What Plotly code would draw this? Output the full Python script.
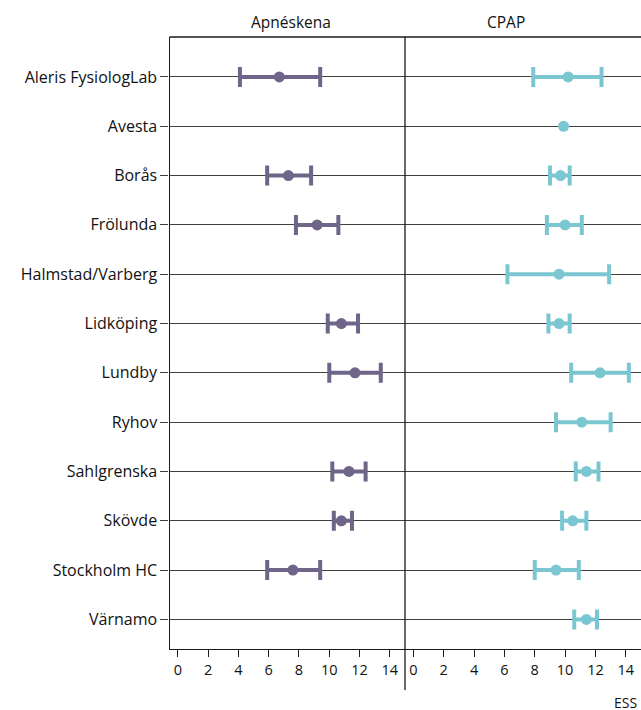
import plotly.graph_objects as go

clinics = ["Aleris FysiologLab", "Avesta", "Borås", "Frölunda", "Halmstad/Varberg",
           "Lidköping", "Lundby", "Ryhov", "Sahlgrenska", "Skövde", "Stockholm HC", "Värnamo"]

# Apnéskena: mean ESS with lower / upper CI
splint_mean = [6.7, None, 7.3, 9.2, None, 10.8, 11.7, None, 11.3, 10.8, 7.6, None]
splint_lo   = [4.1, None, 5.9, 7.8, None, 9.9, 10.0, None, 10.2, 10.3, 5.9, None]
splint_hi   = [9.4, None, 8.8, 10.6, None, 11.9, 13.4, None, 12.4, 11.5, 9.4, None]

# CPAP: mean ESS with lower / upper CI
cpap_mean = [10.2, 9.9, 9.7, 10.0, 9.6, 9.6, 12.3, 11.1, 11.4, 10.5, 9.4, 11.4]
cpap_lo   = [7.9, None, 9.0, 8.8, 6.2, 8.9, 10.4, 9.4, 10.7, 9.8, 8.0, 10.6]
cpap_hi   = [12.4, None, 10.3, 11.1, 12.9, 10.3, 14.2, 13.0, 12.2, 11.4, 10.9, 12.1]

panel_titles = ["Apnéskena", "CPAP"]
x_ticks = [0, 2, 4, 6, 8, 10, 12, 14]
x_label = "ESS"

PURPLE = "#6E6589"
CYAN = "#7AC7D2"
GRID = "#404040"
LINE = "#1a1a1a"
FONT = "Open Sans"

W, H = 641, 710
def px_x(p): return p / W
def px_y(p): return 1 - p / H

fig = go.Figure()
for mean, lo, hi, color, xa, ya in [(splint_mean, splint_lo, splint_hi, PURPLE, "x", "y"),
                                     (cpap_mean, cpap_lo, cpap_hi, CYAN, "x2", "y2")]:
    ci_x, ci_y, ci_p, ci_m, pt_x, pt_y = [], [], [], [], [], []
    for c, m, l, h in zip(clinics, mean, lo, hi):
        if m is None:
            continue
        if l is None or h is None:
            pt_x.append(m); pt_y.append(c)
        else:
            ci_x.append(m); ci_y.append(c); ci_p.append(h - m); ci_m.append(m - l)
    fig.add_trace(go.Scatter(
        x=ci_x, y=ci_y, mode="markers", xaxis=xa, yaxis=ya,
        marker=dict(color=color, size=11, symbol="circle"),
        error_x=dict(type="data", symmetric=False, array=ci_p, arrayminus=ci_m,
                     color=color, thickness=4, width=10),
        showlegend=False, cliponaxis=False))
    if pt_x:
        fig.add_trace(go.Scatter(
            x=pt_x, y=pt_y, mode="markers", xaxis=xa, yaxis=ya,
            marker=dict(color=color, size=11, symbol="circle"),
            showlegend=False, cliponaxis=False))

left_dom = [px_x(169.5), px_x(405)]
right_dom = [px_x(405), 1.0]
y_dom = [px_y(649), px_y(37)]
yrange = [11.6, -0.81]
xrange_ = [-0.55, 15.0]

common_x = dict(range=xrange_, tickvals=x_ticks, ticks="outside", ticklen=7, tickwidth=1,
                tickcolor=LINE, showline=True, linecolor=LINE, linewidth=1.3,
                showgrid=False, zeroline=False, automargin=False,
                tickfont=dict(family=FONT, size=14.5, color="#111"))
common_y = dict(range=yrange, type="category", categoryorder="array", categoryarray=clinics,
                showgrid=True, gridcolor=GRID, gridwidth=1.3, zeroline=False, automargin=False,
                domain=y_dom)

fig.update_layout(
    width=W, height=H, margin=dict(l=0, r=0, t=0, b=0),
    paper_bgcolor="white", plot_bgcolor="white",
    font=dict(family=FONT, color="#111"),
    xaxis=dict(domain=left_dom, anchor="y", **common_x),
    xaxis2=dict(domain=right_dom, anchor="y2", **common_x),
    yaxis=dict(anchor="x", ticks="outside", ticklen=8, tickwidth=1.3, tickcolor=GRID,
               showline=True, linecolor=LINE, linewidth=1.3,
               tickfont=dict(family=FONT, size=16, color="#111"), **common_y),
    yaxis2=dict(anchor="x2", showticklabels=False, ticks="", showline=False, **common_y),
    shapes=[
        dict(type="line", xref="paper", yref="paper", x0=px_x(405), x1=px_x(405),
             y0=px_y(37), y1=px_y(690), line=dict(color=LINE, width=1.3)),
        dict(type="line", xref="paper", yref="paper", x0=px_x(169.5), x1=1.0,
             y0=px_y(37), y1=px_y(37), line=dict(color=LINE, width=1.3)),
    ],
    annotations=[
        dict(text=panel_titles[0], xref="paper", yref="paper", x=px_x(291),
             y=px_y(22), yanchor="middle", showarrow=False,
             font=dict(family=FONT, size=15.5, color="#111")),
        dict(text=panel_titles[1], xref="paper", yref="paper", x=px_x(527),
             y=px_y(22), yanchor="middle", showarrow=False,
             font=dict(family=FONT, size=15.5, color="#111")),
        dict(text=x_label, xref="paper", yref="paper", x=px_x(639), xanchor="right",
             y=px_y(702), yanchor="middle", showarrow=False,
             font=dict(family=FONT, size=14, color="#111")),
    ],
)

fig.write_html("out.html", config={"displayModeBar": False},
               post_script="document.body.style.margin='0';document.body.style.overflow='hidden';")
